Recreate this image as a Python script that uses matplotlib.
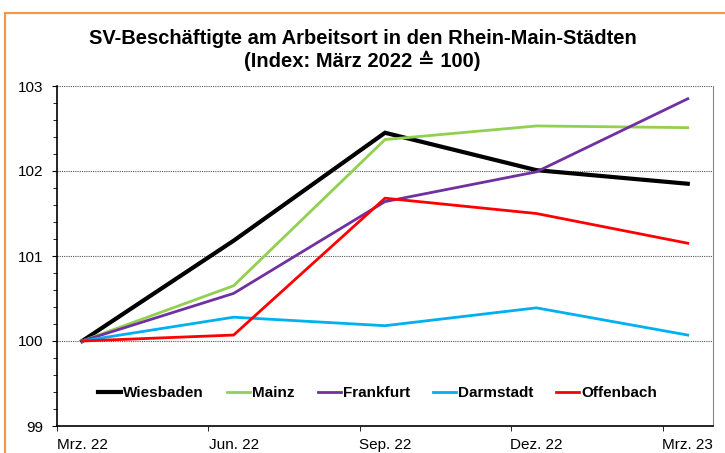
"""SV-Beschaeftigte am Arbeitsort, Rhein-Main-Staedte, Index Maerz 2022 = 100."""

import matplotlib
matplotlib.use("Agg")
import matplotlib.pyplot as plt
from matplotlib.patches import Rectangle
from matplotlib.ticker import MultipleLocator

plt.rcParams.update({"font.family": ["Liberation Sans", "DejaVu Sans"], "font.size": 11})

months = [0, 3, 6, 9, 12]  # months after Mrz. 22
tick_labels = ["Mrz. 22", "Jun. 22", "Sep. 22", "Dez. 22", "Mrz. 23"]

wiesbaden = [100.0, 101.18, 102.45, 102.01, 101.85]
mainz = [100.0, 100.65, 102.37, 102.53, 102.51]
frankfurt = [100.0, 100.56, 101.64, 101.99, 102.85]
darmstadt = [100.0, 100.28, 100.18, 100.39, 100.07]
offenbach = [100.0, 100.07, 101.68, 101.50, 101.15]

series = [("Wiesbaden", wiesbaden, "black", 3.0),
          ("Mainz", mainz, "#92D050", 2.0),
          ("Frankfurt", frankfurt, "#7030A0", 2.0),
          ("Darmstadt", darmstadt, "#00B0F0", 2.0),
          ("Offenbach", offenbach, "#FF0000", 2.0)]

fig = plt.figure(figsize=(7.25, 4.53), dpi=100)
ax = fig.add_axes([57 / 725, 1 - 426 / 453, 656 / 725, 340 / 453])

for name, vals, color, lw in series:
    ax.plot(months, vals, color=color, lw=lw, label=name, solid_joinstyle="miter")

ax.set_xlim(-0.5, 12.5)
ax.set_ylim(99, 103)
ax.set_xticks(months)
ax.set_xticklabels(tick_labels)
ax.set_xticks([-0.5, 2.5, 5.5, 8.5, 11.5], minor=True)
ax.tick_params(axis="x", which="major", length=0, pad=8.5)
ax.tick_params(axis="x", which="minor", length=3.6, direction="out", color="black")
ax.yaxis.set_major_locator(MultipleLocator(1))
ax.yaxis.set_minor_locator(MultipleLocator(0.2))
ax.tick_params(axis="y", which="major", length=3.6, direction="out", pad=6)
ax.tick_params(axis="y", which="minor", length=3, direction="out")
ax.grid(axis="y", which="major", color="#555555", ls=(0, (1, 1)), lw=0.8)
ax.set_axisbelow(True)

ax.spines["left"].set_color("black")
ax.spines["bottom"].set_color("black")
ax.spines["left"].set_linewidth(1.2)
ax.spines["bottom"].set_linewidth(1.2)
ax.spines["top"].set_visible(False)
ax.spines["right"].set_color("#888888")

ax.legend(loc="center", bbox_to_anchor=(0.489, 0.097), ncol=5, frameon=False,
          handlelength=1.5, handletextpad=0.15, columnspacing=1.5,
          prop={"weight": "bold", "size": 11})

fig.text(0.5, 1 - 38 / 453, "SV-Beschäftigte am Arbeitsort in den Rhein-Main-Städten",
         ha="center", va="center", fontsize=14.5, weight="bold")
fig.text(0.5, 1 - 61 / 453, "(Index: März 2022 ≙ 100)",
         ha="center", va="center", fontsize=14.5, weight="bold")

# orange chart frame, cut off at right and bottom in the source image
fig.patches.append(Rectangle((4.5 / 725, -0.2), 2, 1.2 - 12.5 / 453,
                             transform=fig.transFigure, fill=False,
                             edgecolor="#F79646", lw=1.6))

fig.savefig("out.png", dpi=100)
